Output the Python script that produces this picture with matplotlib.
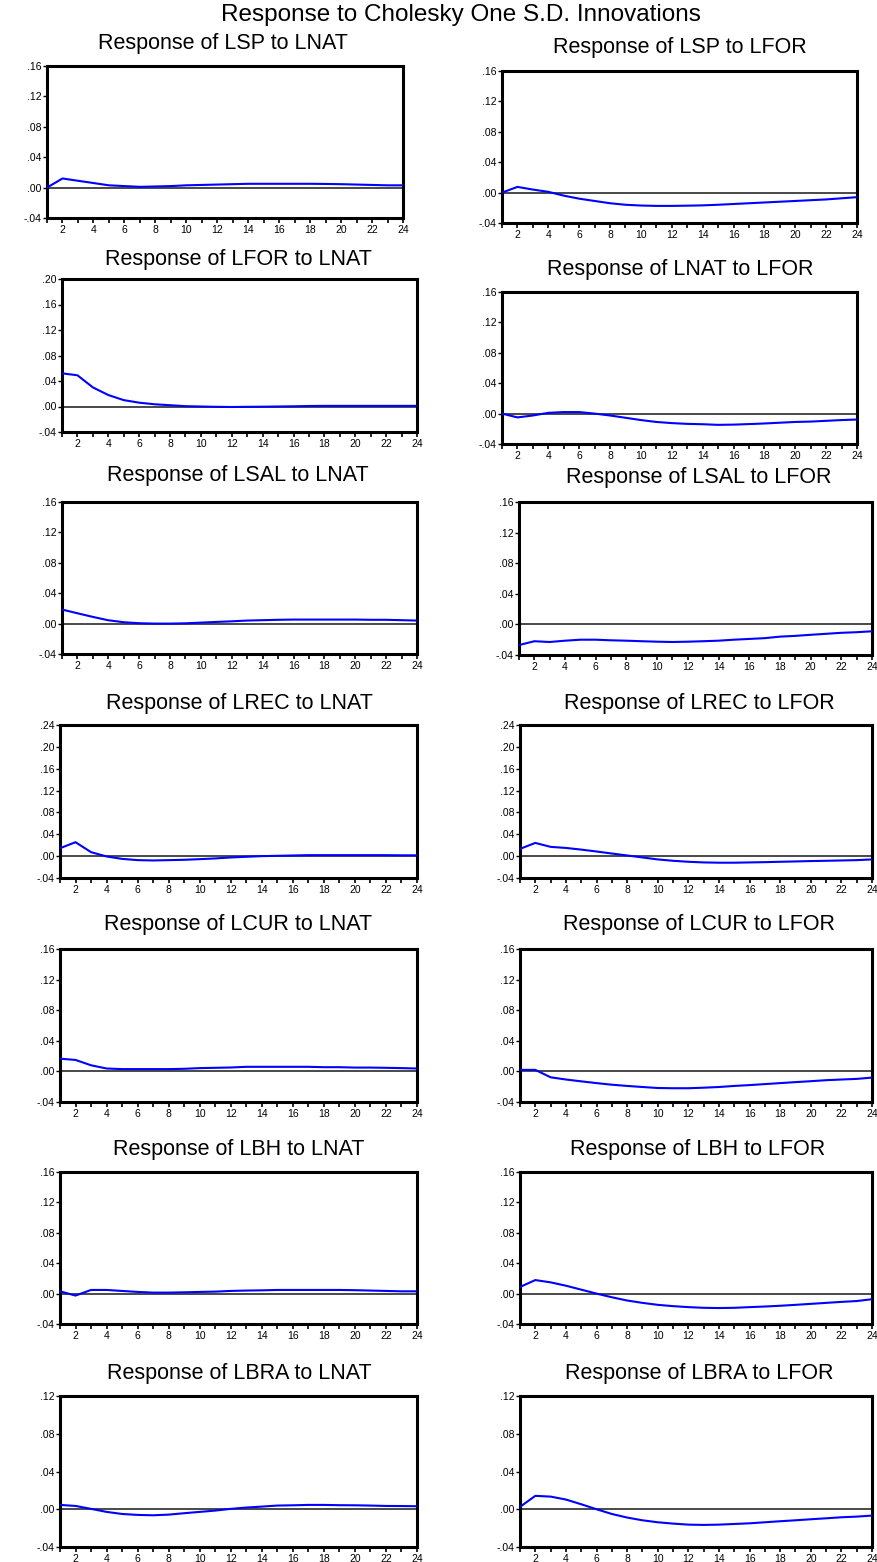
import matplotlib
matplotlib.use("Agg")
import matplotlib.pyplot as plt

plt.rcParams['font.family'] = ['Liberation Sans', 'DejaVu Sans']

# ---------------- data ----------------
horizons = list(range(1, 25))

lsp_lnat = [0.0, 0.012, 0.009, 0.006, 0.003, 0.002, 0.001, 0.0015, 0.002, 0.003, 0.0035, 0.004,
            0.0045, 0.005, 0.005, 0.005, 0.005, 0.005, 0.0048, 0.0045, 0.004, 0.0035, 0.003, 0.003]
lsp_lfor = [0.0, 0.0075, 0.004, 0.001, -0.004, -0.008, -0.011, -0.014, -0.016, -0.017, -0.0175, -0.0175,
            -0.0172, -0.0168, -0.016, -0.015, -0.014, -0.013, -0.012, -0.011, -0.010, -0.009, -0.0075, -0.006]
lfor_lnat = [0.052, 0.049, 0.030, 0.018, 0.010, 0.006, 0.0035, 0.002, 0.0005, 0.0, -0.0005, -0.0008,
             -0.0005, -0.0003, 0.0, 0.0003, 0.0008, 0.001, 0.001, 0.001, 0.001, 0.001, 0.001, 0.001]
lnat_lfor = [0.0, -0.005, -0.0025, 0.001, 0.002, 0.002, 0.0, -0.0025, -0.0055, -0.0085, -0.011, -0.0125,
             -0.0135, -0.014, -0.0148, -0.0145, -0.0138, -0.013, -0.012, -0.011, -0.0105, -0.0095, -0.0085, -0.0078]
lsal_lnat = [0.0185, 0.0136, 0.0088, 0.0044, 0.0018, 0.0005, 0.0, 0.0, 0.0004, 0.0013, 0.0022, 0.003,
             0.004, 0.0045, 0.005, 0.0053, 0.0053, 0.0053, 0.0053, 0.0053, 0.005, 0.005, 0.0045, 0.004]
lsal_lfor = [-0.027, -0.022, -0.023, -0.0213, -0.020, -0.020, -0.0208, -0.0213, -0.022, -0.0226, -0.023, -0.0226,
             -0.022, -0.0213, -0.020, -0.019, -0.018, -0.016, -0.015, -0.0136, -0.0123, -0.011, -0.0102, -0.009]
lrec_lnat = [0.0145, 0.0255, 0.0073, -0.0006, -0.005, -0.0073, -0.0079, -0.0073, -0.0067, -0.0055, -0.0042, -0.0024,
             -0.0012, 0.0, 0.0006, 0.0012, 0.0018, 0.0018, 0.0018, 0.0018, 0.0018, 0.0018, 0.0015, 0.0015]
lrec_lfor = [0.0133, 0.0242, 0.017, 0.015, 0.012, 0.0085, 0.0048, 0.0012, -0.0024, -0.006, -0.0085, -0.0103,
             -0.0115, -0.012, -0.012, -0.0115, -0.011, -0.0103, -0.0097, -0.009, -0.0085, -0.0079, -0.0073, -0.006]
lcur_lnat = [0.0166, 0.015, 0.008, 0.0038, 0.003, 0.003, 0.003, 0.003, 0.0034, 0.0043, 0.0047, 0.0051,
             0.006, 0.006, 0.006, 0.006, 0.006, 0.0055, 0.0055, 0.005, 0.005, 0.0047, 0.0043, 0.0038]
lcur_lfor = [0.002, 0.002, -0.0077, -0.0106, -0.013, -0.0153, -0.0174, -0.019, -0.0204, -0.0217, -0.022, -0.022,
             -0.0213, -0.0204, -0.019, -0.0179, -0.0166, -0.0153, -0.014, -0.0128, -0.0115, -0.0106, -0.0098, -0.0081]
lbh_lnat = [0.003, -0.0026, 0.0048, 0.0048, 0.0035, 0.0022, 0.0013, 0.0013, 0.0017, 0.0022, 0.0026, 0.0035,
            0.004, 0.0043, 0.0048, 0.0048, 0.0048, 0.0048, 0.0048, 0.0045, 0.004, 0.0035, 0.003, 0.003]
lbh_lfor = [0.0087, 0.0178, 0.0148, 0.0104, 0.0052, 0.0, -0.0048, -0.0091, -0.0122, -0.0148, -0.0165, -0.0178,
            -0.0187, -0.019, -0.0187, -0.0178, -0.017, -0.016, -0.0148, -0.0135, -0.0122, -0.0109, -0.0098, -0.0074]
lbra_lnat = [0.0046, 0.0035, 0.0004, -0.0028, -0.005, -0.006, -0.0064, -0.0057, -0.0042, -0.0028, -0.0014, 0.0004,
             0.0018, 0.0028, 0.0039, 0.0042, 0.0046, 0.0046, 0.0043, 0.0042, 0.0039, 0.0035, 0.0034, 0.0032]
lbra_lfor = [0.0025, 0.0142, 0.0134, 0.0103, 0.0053, 0.0, -0.005, -0.0088, -0.0117, -0.0138, -0.0152, -0.0163,
             -0.0166, -0.0163, -0.0156, -0.0149, -0.0138, -0.0127, -0.0117, -0.0106, -0.0096, -0.0085, -0.0078, -0.0067]

titles = ["Response of LSP to LNAT", "Response of LSP to LFOR",
          "Response of LFOR to LNAT", "Response of LNAT to LFOR",
          "Response of LSAL to LNAT", "Response of LSAL to LFOR",
          "Response of LREC to LNAT", "Response of LREC to LFOR",
          "Response of LCUR to LNAT", "Response of LCUR to LFOR",
          "Response of LBH to LNAT", "Response of LBH to LFOR",
          "Response of LBRA to LNAT", "Response of LBRA to LFOR"]
series = [lsp_lnat, lsp_lfor, lfor_lnat, lnat_lfor, lsal_lnat, lsal_lfor,
          lrec_lnat, lrec_lfor, lcur_lnat, lcur_lfor, lbh_lnat, lbh_lfor,
          lbra_lnat, lbra_lfor]
ymin = -0.04
ymaxs = [0.16, 0.16, 0.20, 0.16, 0.16, 0.16, 0.24, 0.24, 0.16, 0.16, 0.16, 0.16, 0.12, 0.12]

# ---------------- layout (pixels) ----------------
W, H = 878, 1562
boxes = [  # left, top, right, bottom
    (47, 66, 403, 218), (502, 71, 857, 223),
    (62, 279, 417, 432), (502, 292, 857, 444),
    (62, 502, 417, 654), (519, 502, 872, 655),
    (60, 725, 417, 878), (520, 725, 872, 878),
    (60, 949, 417, 1102), (520, 949, 872, 1102),
    (60, 1172, 417, 1324), (520, 1172, 872, 1324),
    (60, 1396, 417, 1547), (520, 1396, 872, 1547),
]
title_pos = [
    (223, 43), (680, 48),
    (238, 259), (680, 269),
    (238, 475), (699, 478),
    (239, 703), (699, 703),
    (238, 925), (699, 925),
    (239, 1149), (698, 1149),
    (239, 1373), (699, 1373),
]

fig = plt.figure(figsize=(W / 100, H / 100), dpi=100)
fig.text(461 / W, 1 - 15 / H, "Response to Cholesky One S.D. Innovations",
         ha='center', va='center', fontsize=17.5)


def fmt(v):
    s = f"{v:.2f}"
    return s.replace("0.", ".", 1)


for i in range(14):
    l, t, r, b = boxes[i]
    ax = fig.add_axes([l / W, 1 - b / H, (r - l) / W, (b - t) / H])
    ax.axhline(0, color='#3a3a3a', lw=1.3, zorder=2)
    ax.plot(horizons, series[i], color='#0000ff', lw=1.5, zorder=3)
    ax.set_xlim(1, 24)
    ax.set_ylim(ymin, ymaxs[i])
    ax.set_xticks(horizons)
    ax.set_xticklabels([str(h) if h % 2 == 0 else '' for h in horizons])
    n = int(round((ymaxs[i] - ymin) / 0.04))
    yt = [round(ymin + 0.04 * k, 2) for k in range(n + 1)]
    ax.set_yticks(yt)
    ax.set_yticklabels([fmt(v) for v in yt])
    for s in ax.spines.values():
        s.set_linewidth(2.2)
        s.set_color('black')
    ax.tick_params(axis='y', direction='out', length=3, width=1, pad=1, labelsize=7.5)
    ax.tick_params(axis='x', direction='out', length=3.5, width=1.2, pad=1.2, labelsize=7.5)
    tx, ty = title_pos[i]
    fig.text(tx / W, 1 - ty / H, titles[i], ha='center', va='center', fontsize=15.5)

fig.savefig("out.png", dpi=100)
